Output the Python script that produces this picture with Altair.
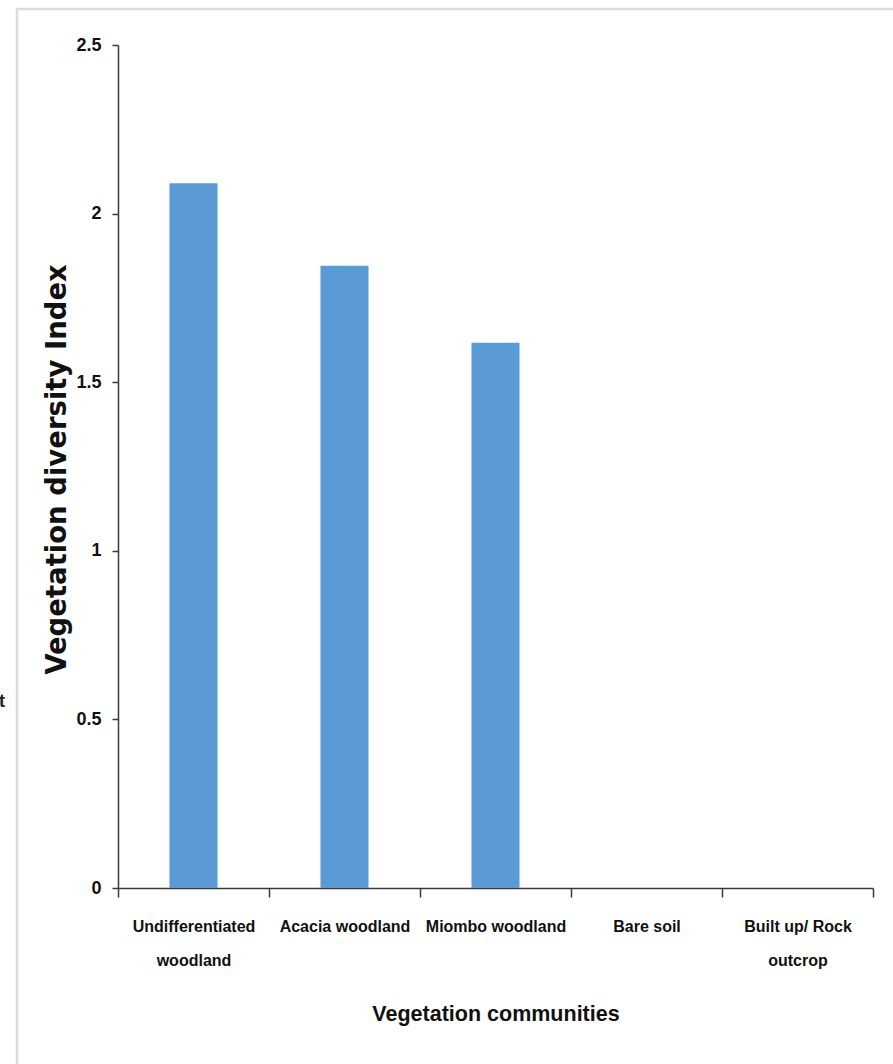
import altair as alt
import pandas as pd

# Vegetation diversity index by community
communities = [
    "Undifferentiated\nwoodland",
    "Acacia woodland",
    "Miombo woodland",
    "Bare soil",
    "Built up/ Rock\noutcrop",
]
diversity_index = [2.09, 1.845, 1.617, 0.0, 0.0]
y_ticks = [0, 0.5, 1, 1.5, 2, 2.5]

df = pd.DataFrame({"community": communities, "index": diversity_index})

PLOT_W, PLOT_H = 755, 843
SANS = "Liberation Sans, Arial, sans-serif"

bars = alt.Chart(df).mark_bar(
    color="#5B9BD5", width=alt.RelativeBandSize(0.318)
).encode(
    x=alt.X(
        "community:N",
        sort=communities,
        scale=alt.Scale(paddingInner=0, paddingOuter=0),
        axis=alt.Axis(
            title="Vegetation communities",
            labelAngle=0,
            labelLimit=0,
            labelExpr=r"split(datum.label, '\n')",
            labelFont=SANS,
            labelFontSize=16,
            labelFontWeight="bold",
            labelColor="#111111",
            labelLineHeight=34,
            labelPadding=29,
            labelBaseline="middle",
            tickBand="extent",
            tickSize=9,
            tickColor="#3a3a3a",
            tickWidth=1.5,
            domainColor="#3a3a3a",
            domainWidth=1.5,
            grid=False,
            titleFont=SANS,
            titleFontSize=21.5,
            titleFontWeight="bold",
            titleColor="#111111",
            titleBaseline="alphabetic",
            titleY=132,
        ),
    ),
    y=alt.Y(
        "index:Q",
        scale=alt.Scale(domain=[0, 2.5], nice=False, zero=True),
        axis=alt.Axis(
            title="Vegetation diversity Index",
            values=y_ticks,
            format="~g",
            labelFont=SANS,
            labelFontSize=18,
            labelFontWeight="bold",
            labelColor="#111111",
            labelPadding=11,
            tickSize=6,
            tickColor="#3a3a3a",
            tickWidth=1.5,
            domainColor="#3a3a3a",
            domainWidth=1.5,
            grid=False,
            titleFont="DejaVu Sans, Verdana, sans-serif",
            titleFontSize=27.5,
            titleFontWeight="bold",
            titleColor="#111111",
            titleAngle=270,
            titleBaseline="alphabetic",
            titleX=-53,
            titleY=424,
        ),
    ),
)

# light outer frame of the figure
frame = alt.Chart(alt.Data(values=[{}])).mark_rect(
    fill=None, stroke="#dcdcdc", strokeWidth=2.5
).encode(
    x=alt.value(-101), x2=alt.value(PLOT_W + 200),
    y=alt.value(-36), y2=alt.value(PLOT_H + 300),
)

# edge of a clipped side annotation
stray = alt.Chart(alt.Data(values=[{"t": "t"}])).mark_text(
    align="right", baseline="middle", font=SANS, fontSize=18,
    fontWeight="bold", color="#222222"
).encode(text="t:N", x=alt.value(-113), y=alt.value(657))

chart = alt.layer(frame, bars, stray).properties(
    width=PLOT_W,
    height=PLOT_H,
    padding={"left": 118, "top": 45, "right": 20, "bottom": 176},
    autosize=alt.AutoSizeParams(type="none"),
    background="white",
).configure_view(stroke=None)

chart.save("out.html", embed_options={"renderer": "svg", "actions": False})
